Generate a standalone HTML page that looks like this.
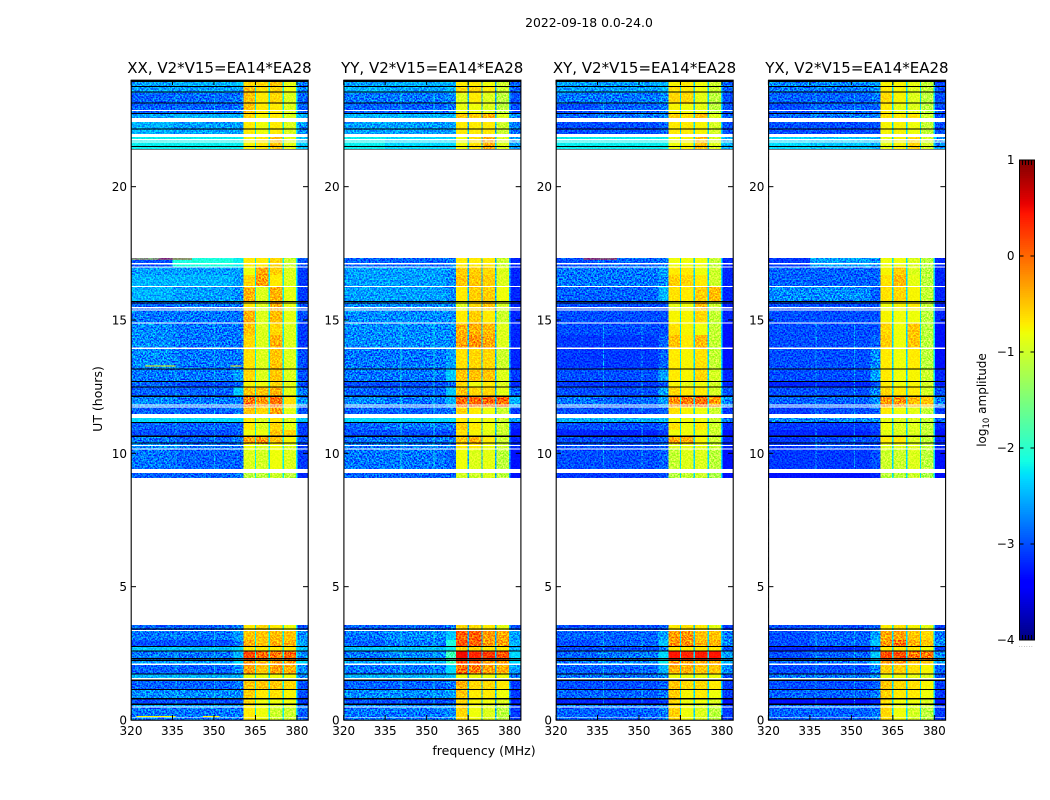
<!DOCTYPE html>
<html lang="en">
<head>
<meta charset="utf-8">
<title>2022-09-18 amplitude spectrogram</title>
<style>
html,body{margin:0;padding:0;background:#fff;width:1050px;height:800px;overflow:hidden}
svg{display:block}
text{font-family:"DejaVu Sans","Liberation Sans",sans-serif;fill:#000}
.tick{font-size:12px}
.ttl{font-size:15px}
.lab{font-size:12px}
</style>
</head>
<body>
<svg id="figure" width="1050" height="800" viewBox="0 0 1050 800" xmlns="http://www.w3.org/2000/svg">
<defs>
<filter id="speckle" x="0" y="0" width="100%" height="100%" color-interpolation-filters="sRGB">
<feTurbulence type="fractalNoise" baseFrequency="0.62" numOctaves="2" seed="7"/>
<feColorMatrix type="matrix" values="2.8 0 0 0 -0.9  2.8 0 0 0 -0.9  2.8 0 0 0 -0.9  0 0 0 0 1"/>
</filter>
</defs>
<text x="589" y="27" text-anchor="middle" style="font-size:12.4px">2022-09-18 0.0-24.0</text>
<text x="484" y="755" text-anchor="middle" style="font-size:12.5px">frequency (MHz)</text>
<text transform="translate(102,399) rotate(-90)" text-anchor="middle" style="font-size:12.5px">UT (hours)</text>
<text transform="translate(986,400) rotate(-90)" text-anchor="middle" style="font-size:12px">log<tspan dy="3" style="font-size:8.5px">10</tspan><tspan dy="-3"> amplitude</tspan></text>
</svg>
<script>
const panelNames = ['XX', 'YY', 'XY', 'YX'];
const baselineLabel = 'V2*V15=EA14*EA28';
const freqTicks = [320, 335, 350, 365, 380];
const utTicks = [0, 5, 10, 15, 20];
const colorbarTicks = [-4, -3, -2, -1, 0, 1];
const freqColumns = [[320,335],[335,357],[357,360.6],[360.6,364.75],[365.25,369.75],[370.25,374.75],[375.25,379.75],[380.25,384]];
const channelGaps = [[364.75,365.25],[369.75,370.25],[374.75,375.25],[379.75,380.25]];
const gapLevels = [-2.2, -2.5, -2.3, -2.3];
const scanRows = [[0,.48],[.48,.6],[.6,.79],[.79,1.16],[1.16,1.5],[1.5,1.73],[1.73,2.1],[2.1,2.25],[2.25,2.59],[2.59,2.76],[2.76,3],[3,3.34],[3.34,3.56],
[9.08,9.26],[9.41,10.16],[10.16,10.35],[10.35,10.63],[10.63,10.88],[10.88,11.16],[11.16,11.33],[11.48,11.74],[11.74,12.13],[12.13,12.47],[12.47,12.71],[12.71,13.16],[13.16,13.93],[13.93,14.44],[14.44,14.89],[14.89,15.38],[15.38,15.68],[15.68,16.28],[16.28,16.69],[16.69,16.99],[16.99,17.33],
[21.41,21.98],[21.98,22.43],[22.58,22.73],[22.73,23.1],[23.1,23.51],[23.51,23.74],[23.74,24]];
const xxLevels = [
[-2.8,-2.8,-2.8,-.7,-.8,-1,-1,-2.9],[-2.6,-2.6,-2.6,-.7,-.8,-.9,-.85,-2.9],[-3,-3,-3,-.6,-.8,-.8,-.8,-3.1],[-2.7,-2.7,-2.7,-.55,-.7,-.65,-.75,-3],[-2.9,-2.9,-2.8,-.5,-.5,-.5,-.6,-3],[-2.5,-2.5,-2.5,-.8,-.8,-.8,-.8,-2.7],[-2.9,-2.9,-2.7,-.3,-.5,-.3,-.4,-2.7],[-2.6,-2.6,-2.3,-.25,-.4,-.25,-.3,-2.3],[-2.8,-2.8,-2.5,.15,0,-.1,0,-2.7],[-2.4,-2.4,-2.3,-.7,-.7,-.7,-.7,-2.4],[-3,-3,-2.8,-.4,-.5,-.4,-.4,-2.6],[-2.8,-2.8,-2.6,-.5,-.5,-.45,-.5,-2.7],[-2.9,-2.9,-2.8,-.7,-.6,-.7,-.8,-3],
[-2.9,-2.9,-2.8,-1.1,-1.1,-1,-1.1,-3.2],[-2.8,-2.9,-2.9,-.9,-.95,-.8,-.9,-3.1],[-2.7,-2.8,-2.8,-.8,-.9,-.8,-.9,-3.1],[-2.8,-2.9,-2.8,-.35,-.25,-.5,-.75,-3],[-3,-3,-2.9,-.8,-.8,-.5,-.6,-3.1],[-2.9,-2.9,-2.9,-.7,-.9,-.6,-.85,-3.1],[-2.3,-2.3,-2.3,-.7,-.9,-.7,-.9,-2.4],[-2.9,-2.9,-2.8,-.5,-.6,-.3,-.85,-3],[-2.7,-2.8,-2.8,-.1,-.25,-.05,-.65,-2.7],[-2.9,-2.9,-2.4,-.5,-.5,-.4,-.85,-2.8],[-2.9,-3,-2.9,-.75,-.8,-.6,-.85,-3],[-2.8,-2.8,-2.6,-.6,-.9,-.5,-.9,-3],[-2.7,-2.8,-2.8,-.65,-.9,-.5,-.9,-3],[-2.7,-2.8,-2.8,-.6,-.9,-.4,-.9,-3.1],[-2.7,-2.8,-2.8,-.5,-.9,-.6,-.9,-3.1],[-2.8,-2.8,-2.8,-.4,-.9,-.45,-.85,-3],[-2.9,-2.8,-2.8,-.7,-.9,-.35,-.85,-3],[-2.5,-2.6,-2.7,-.4,-.9,-.4,-.85,-3.1],[-2.5,-2.5,-2.6,-.6,-.3,-.7,-.9,-3.1],[-2.6,-2.6,-2.6,-.8,-.35,-.55,-.9,-3.1],[-3,-2.1,-2.2,-.7,-.7,-.6,-1,-3],
[-2.2,-2.2,-2.2,-.75,-.7,-.5,-.85,-2.4],[-2.5,-2.6,-2.6,-.7,-.8,-.7,-.9,-2.7],[-2.6,-2.5,-2.5,-.6,-.75,-.7,-.9,-2.5],[-2.9,-2.9,-2.8,-.5,-.7,-.7,-.9,-2.9],[-2.9,-2.85,-2.8,-.5,-.7,-.6,-.9,-2.9],[-2.6,-2.6,-2.6,-.45,-.65,-.6,-.8,-2.7],[-2.6,-2.5,-2.4,-.6,-.6,-.5,-.85,-2.8]];
const yyLevels = [
[-2.8,-2.8,-2.7,-.6,-.8,-.9,-1.1,-3.1],[-2.7,-2.7,-2.6,-.6,-.8,-.9,-1,-3.1],[-3,-3,-2.9,-.6,-.75,-.8,-.9,-3.2],[-2.7,-2.7,-2.6,-.5,-.7,-.7,-.8,-3.1],[-2.9,-2.9,-2.8,-.4,-.6,-.6,-.7,-3.1],[-2.5,-2.5,-2.4,-.8,-.8,-.8,-.8,-2.8],[-2.8,-2.8,-2.3,-.05,-.1,-.3,-.4,-2.6],[-2.6,-2.5,-1.9,.15,.05,-.3,-.3,-2.3],[-2.8,-2.7,-1.9,.5,.35,.25,.1,-2.3],[-2.4,-2.4,-2.2,-.6,-.6,-.7,-.7,-2.5],[-2.9,-2.8,-2.1,.1,.05,-.3,-.3,-2.5],[-2.8,-2.7,-2.4,.05,.05,-.25,-.35,-2.6],[-2.9,-2.9,-2.8,-.6,-.6,-.7,-.85,-3],
[-2.9,-2.9,-2.9,-.95,-1,-.9,-1.1,-3.3],[-2.8,-2.8,-2.9,-.8,-.9,-.85,-1.1,-3.3],[-2.8,-2.8,-2.8,-.7,-.7,-.8,-1,-3.2],[-2.8,-2.8,-2.8,-.5,-.4,-.7,-1,-3.2],[-3,-3,-3,-.65,-.75,-.85,-1,-3.3],[-2.9,-2.8,-2.8,-.55,-.7,-.8,-1,-3.2],[-2.3,-2.3,-2.3,-.7,-.8,-.8,-1,-2.6],[-2.9,-2.9,-2.8,-.6,-.7,-.8,-1,-3.1],[-2.7,-2.8,-2.5,0,0,0,0,-2.5],[-2.9,-2.9,-2.4,-.5,-.6,-.6,-.85,-2.9],[-3,-3,-2.9,-.6,-.8,-.7,-.9,-3.2],[-2.8,-2.8,-2.4,-.5,-.5,-.5,-.9,-3.1],[-2.8,-2.8,-2.6,-.65,-.6,-.6,-1,-3.2],[-2.7,-2.7,-2.7,-.35,-.25,-.35,-.9,-3.2],[-2.7,-2.7,-2.7,-.4,-.4,-.45,-.9,-3.2],[-2.7,-2.7,-2.7,-.7,-.55,-.7,-1,-3.2],[-2.7,-2.7,-2.7,-.9,-.6,-.5,-.95,-3.2],[-2.6,-2.6,-2.7,-.7,-.55,-.55,-.8,-3.2],[-2.6,-2.6,-2.7,-.5,-.5,-.55,-.9,-3.2],[-2.6,-2.6,-2.7,-.55,-.55,-.6,-.9,-3.2],[-2.9,-2.9,-2.8,-.7,-.7,-.7,-1,-3.2],
[-2.2,-2.3,-2.3,-.8,-.65,-.4,-.9,-2.6],[-2.6,-2.6,-2.6,-.7,-.7,-.7,-1,-2.8],[-2.5,-2.5,-2.5,-.5,-.55,-.4,-.9,-2.7],[-2.9,-2.9,-2.8,-.85,-.8,-.9,-1.1,-3],[-2.8,-2.8,-2.7,-.9,-.7,-.9,-1.1,-3],[-2.5,-2.6,-2.5,-.6,-.6,-.7,-1,-2.9],[-2.6,-2.5,-2.5,-.7,-.7,-.8,-1,-2.9]];
const xyLevels = [
[-2.9,-2.9,-2.8,-.55,-.8,-.9,-1.1,-3.1],[-2.8,-2.8,-2.7,-.65,-.8,-.9,-1,-3.1],[-3.2,-3.2,-3.1,-.6,-.8,-.8,-.9,-3.3],[-2.9,-2.9,-2.8,-.55,-.75,-.7,-.8,-3.1],[-3,-3,-2.9,-.5,-.6,-.6,-.7,-3.1],[-2.8,-2.8,-2.7,-.8,-.8,-.8,-.8,-3],[-2.9,-2.9,-2.5,-.4,-.4,-.5,-.5,-2.7],[-2.8,-2.7,-2.2,-.2,-.25,-.4,-.4,-2.5],[-2.9,-2.8,-2.3,.45,.35,.4,.45,-2.6],[-3,-3,-2.8,-.7,-.7,-.7,-.7,-3],[-3,-2.9,-2.4,-.25,-.25,-.4,-.4,-2.7],[-2.9,-2.9,-2.6,-.3,-.25,-.5,-.5,-2.8],[-3,-3,-2.9,-.7,-.65,-.7,-.85,-3.1],
[-3.1,-3.1,-3,-1.15,-1.05,-1,-1.2,-3.3],[-3,-3,-2.9,-1.05,-.9,-.9,-1.1,-3.3],[-3,-3,-2.9,-.9,-.85,-.85,-1,-3.2],[-3,-3,-2.9,-.35,-.4,-.75,-1,-3.2],[-3.2,-3.2,-3.1,-.8,-.8,-.8,-1,-3.3],[-3,-3,-2.9,-.65,-.8,-.7,-1,-3.2],[-2.5,-2.5,-2.5,-.8,-.8,-.8,-1,-2.8],[-3,-3,-2.9,-.65,-.75,-.8,-1,-3.1],[-2.8,-2.9,-2.6,-.2,-.1,-.05,-.25,-2.7],[-3,-3,-2.6,-.6,-.7,-.7,-.95,-3],[-3.1,-3.1,-3,-.75,-.85,-.8,-.95,-3.2],[-3,-3,-2.6,-.7,-.75,-.6,-.95,-3.2],[-3.1,-3.1,-2.9,-.7,-.75,-.65,-1.05,-3.3],[-3.1,-3.1,-2.9,-.5,-.7,-.45,-1.05,-3.3],[-3,-3,-3,-.65,-.75,-.8,-1.05,-3.3],[-3,-3,-3,-.75,-.75,-.6,-1.05,-3.2],[-3,-3,-3,-.85,-.8,-.45,-1,-3.2],[-2.9,-2.9,-2.5,-.65,-.7,-.55,-.45,-3.2],[-2.8,-2.8,-2.7,-.55,-.6,-.7,-1,-3.2],[-2.8,-2.8,-2.6,-.7,-.7,-.8,-1,-3.2],[-3,-2.9,-2.8,-.8,-.8,-.8,-1.05,-3.2],
[-2.2,-2.2,-2.2,-.8,-.75,-.5,-.9,-2.5],[-3,-3,-2.9,-.7,-.7,-.75,-.95,-3],[-2.9,-2.8,-2.7,-.55,-.65,-.5,-.9,-2.9],[-3,-2.9,-2.8,-.75,-.8,-.85,-1.1,-3],[-2.8,-2.8,-2.7,-.6,-.6,-.85,-1.1,-3],[-2.6,-2.6,-2.5,-.65,-.7,-.8,-1,-2.9],[-2.6,-2.6,-2.5,-.75,-.7,-.8,-1,-2.9]];
const yxLevels = [
[-2.9,-2.9,-2.8,-.6,-.8,-.95,-1.1,-3.1],[-2.8,-2.8,-2.7,-.65,-.85,-.95,-1,-3.1],[-3.3,-3.3,-3.2,-.65,-.8,-.8,-.9,-3.3],[-2.9,-2.9,-2.8,-.55,-.7,-.7,-.8,-3.1],[-3,-3,-2.9,-.5,-.6,-.65,-.75,-3.1],[-2.8,-2.8,-2.7,-.8,-.8,-.85,-.9,-3],[-3,-3,-2.7,-.55,-.55,-.65,-.75,-2.9],[-2.9,-2.8,-2.4,-.25,-.25,-.5,-.5,-2.6],[-3,-2.9,-2.4,.15,.15,-.1,-.1,-2.7],[-3.2,-3.2,-2.9,-.7,-.7,-.7,-.8,-3.1],[-3,-2.9,-2.4,-.25,-.1,-.4,-.5,-2.7],[-3,-2.9,-2.6,-.35,-.3,-.5,-.6,-2.8],[-3,-3,-2.9,-.7,-.65,-.75,-.85,-3.1],
[-3.3,-3.3,-3.2,-1.1,-1.1,-1,-1.2,-3.3],[-3.1,-3.1,-3,-1,-1,-.9,-1.1,-3.3],[-3.1,-3,-3,-.9,-.9,-.9,-1.05,-3.2],[-3.1,-3,-3,-.7,-.7,-.9,-1.05,-3.2],[-3.2,-3.2,-3.1,-.85,-.9,-.9,-1.05,-3.3],[-3.1,-3.1,-3,-.8,-.9,-.9,-1.05,-3.2],[-2.7,-2.7,-2.7,-.85,-.9,-.9,-1.05,-2.9],[-3.1,-3,-2.9,-.7,-.8,-.85,-1.05,-3.1],[-2.9,-2.9,-2.7,-.25,-.25,-.45,-.5,-2.8],[-3,-3,-2.7,-.6,-.7,-.7,-.95,-3],[-3.2,-3.2,-3,-.7,-.8,-.75,-.95,-3.2],[-3,-3,-2.6,-.7,-.8,-.75,-1,-3.2],[-3,-3,-2.7,-.7,-.8,-.7,-1.1,-3.3],[-3,-3,-2.9,-.55,-.8,-.5,-1.1,-3.3],[-3,-3,-3,-.6,-.8,-.5,-1.1,-3.3],[-3,-3,-3,-.75,-.8,-.8,-1.1,-3.2],[-3,-3,-3,-.8,-.75,-.7,-1.05,-3.2],[-2.7,-2.7,-2.9,-.65,-.6,-.75,-1.05,-3.2],[-2.9,-2.9,-2.9,-.65,-.45,-.85,-1.1,-3.2],[-2.9,-2.9,-2.9,-.75,-.55,-.9,-1.1,-3.2],[-3.1,-2.6,-2.7,-.8,-.8,-.9,-1.1,-3.2],
[-2.3,-2.4,-2.5,-.85,-.75,-.6,-.95,-2.7],[-3,-3,-3,-.75,-.75,-.8,-1.05,-3],[-2.9,-2.8,-2.8,-.65,-.7,-.65,-1,-3],[-3,-2.9,-2.9,-.7,-.85,-.9,-1.1,-3],[-2.9,-2.9,-2.8,-.6,-.75,-.9,-1.1,-3],[-2.8,-2.8,-2.7,-.7,-.75,-.9,-1.05,-3],[-2.7,-2.7,-2.6,-.75,-.75,-.85,-1.05,-3]];
const panelLevels = [xxLevels, yyLevels, xyLevels, yxLevels];
const blankScans = [[.09,.12],[.46,.5],[1.5,1.58],[2.07,2.11],[3.34,3.38],[9.26,9.41],[10.14,10.18],[10.27,10.31],[11.33,11.48],[11.71,11.75],[11.79,11.83],[13.92,13.96],[14.86,14.9],[15.36,15.4],[15.44,15.48],[16.24,16.28],[16.96,17],[17.09,17.13],[21.65,21.69],[21.74,21.78],[21.86,21.98],[22.43,22.58],[22.84,22.88]];
const zeroScans = [[.57,.61],[.76,.83],[1.13,1.17],[1.47,1.51],[1.71,1.75],[2.22,2.26],[2.28,2.32],[2.56,2.6],[2.73,2.77],[3.39,3.43],[10.36,10.4],[10.62,10.66],[11.14,11.18],[12.12,12.16],[12.46,12.5],[12.68,12.72],[13.15,13.19],[15.61,15.65],[15.67,15.71],[21.39,21.42],[21.49,21.53],[22.15,22.19],[22.72,22.76],[23.11,23.15],[23.53,23.57],[23.73,23.77],[23.93,24]];
const rfiFreqs = [[336,350],[340.6,352.5],[337,351],[337,351]];
const rfiSpans = [[.48,3.34],[9.41,11.33],[11.48,14.86],[22.58,23.5]];
const rfiLevel = -2.2;
const burstUt = [17.3, 17.3, 13.3, 13.3, .15, .15];
const burstStart = [330, 320, 325, 356, 322, 346];
const burstEnd = [342, 330, 336, 360, 336, 352];
const burstLevel = [.3, -.6, -.75, -.75, -.75, -.75];

const svgNS = 'http://www.w3.org/2000/svg';
const fig = document.getElementById('figure');
const plotWidth = 177, plotTop = 80, plotBottom = 720;
const plotLeft = [131, 343.7, 556, 768.4];
const x = (p, f) => plotLeft[p] + (f - 320) * plotWidth / 64;
const y = ut => plotBottom - ut * (plotBottom - plotTop) / 24;
const barLeft = 1019.5, barRight = 1034.5, barTop = 160, barBottom = 640;
const barY = v => barBottom - (v + 4) * (barBottom - barTop) / 5;

function knot(t, pts) {
  for (let i = 1; i < pts.length; i++) {
    if (t <= pts[i][0]) {
      const a = pts[i - 1], b = pts[i];
      return a[1] + (b[1] - a[1]) * (t - a[0]) / (b[0] - a[0]);
    }
  }
  return pts[pts.length - 1][1];
}
function jet(v) {
  const t = Math.max(0, Math.min(1, (v + 4) / 5));
  const r = knot(t, [[0,0],[.35,0],[.66,1],[.89,1],[1,.5]]);
  const g = knot(t, [[0,0],[.125,0],[.375,1],[.64,1],[.91,0],[1,0]]);
  const b = knot(t, [[0,.5],[.11,1],[.34,1],[.65,0],[1,0]]);
  return 'rgb(' + Math.round(r * 255) + ',' + Math.round(g * 255) + ',' + Math.round(b * 255) + ')';
}
function rect(parent, x0, y0, w, h, fill) {
  const el = document.createElementNS(svgNS, 'rect');
  el.setAttribute('x', x0);
  el.setAttribute('y', y0);
  el.setAttribute('width', w);
  el.setAttribute('height', h);
  el.setAttribute('fill', fill);
  el.setAttribute('shape-rendering', 'crispEdges');
  parent.appendChild(el);
  return el;
}
function line(parent, x1, y1, x2, y2) {
  const el = document.createElementNS(svgNS, 'line');
  el.setAttribute('x1', x1);
  el.setAttribute('y1', y1);
  el.setAttribute('x2', x2);
  el.setAttribute('y2', y2);
  el.setAttribute('stroke', '#000');
  el.setAttribute('stroke-width', '1');
  parent.appendChild(el);
  return el;
}
function label(parent, x0, y0, str, anchor, cls) {
  const el = document.createElementNS(svgNS, 'text');
  el.setAttribute('x', x0);
  el.setAttribute('y', y0);
  el.setAttribute('text-anchor', anchor);
  el.setAttribute('class', cls);
  el.textContent = str;
  parent.appendChild(el);
  return el;
}
const fmtTick = v => String(v).replace('-', '\u2212');

panelNames.forEach((name, p) => {
  const g = document.createElementNS(svgNS, 'g');
  
  
  fig.appendChild(g);

  const heat = document.createElementNS(svgNS, 'g');
  
  
  heat.setAttribute('style', 'isolation:isolate');
  g.appendChild(heat);

  scanRows.forEach((row, r) => {
    const y0 = y(row[1]), y1 = y(row[0]);
    freqColumns.forEach((col, c) => {
      const cell = rect(heat, x(p, col[0]), y0, x(p, col[1]) - x(p, col[0]), y1 - y0, jet(panelLevels[p][r][c]));
      
      
    });
    channelGaps.forEach(gap => {
      const gapCell = rect(heat, x(p, gap[0]), y0, x(p, gap[1]) - x(p, gap[0]), y1 - y0, jet(gapLevels[p]));
      
      
    });
  });

  rfiSpans.forEach(span => {
    rfiFreqs[p].forEach(f => {
      const rfi = rect(heat, x(p, f), y(span[1]), 1, y(span[0]) - y(span[1]), jet(rfiLevel));
      
      
      rfi.setAttribute('opacity', p === 1 ? '.8' : '.45');
    });
  });

  if (p === 0 || p === 2) {
    burstUt.forEach((ut, i) => {
      if (p === 2 && i !== 0) return;
      const burst = rect(heat, x(p, burstStart[i]), y(ut), x(p, burstEnd[i]) - x(p, burstStart[i]), 1, jet(burstLevel[i]));
      
      
    });
  }

  const noise = rect(heat, plotLeft[p], plotTop, plotWidth, plotBottom - plotTop, '#808080');
  
  
  noise.setAttribute('filter', 'url(#speckle)');
  noise.setAttribute('style', 'mix-blend-mode:overlay');
  noise.setAttribute('opacity', '.9');

  blankScans.forEach(s => {
    const blank = rect(g, plotLeft[p], y(s[1]), plotWidth, y(s[0]) - y(s[1]), '#fff');
    
    
  });
  [[3.56, 9.08], [17.33, 21.41]].forEach(s => {
    const hole = rect(g, plotLeft[p], y(s[1]), plotWidth, y(s[0]) - y(s[1]), '#fff');
    
    
  });
  zeroScans.forEach(s => {
    const zero = rect(g, plotLeft[p], y(s[1]), plotWidth, y(s[0]) - y(s[1]), '#000');
    
    
  });

  const frame = document.createElementNS(svgNS, 'rect');
  frame.setAttribute('x', plotLeft[p] + .2);
  frame.setAttribute('y', plotTop + .2);
  frame.setAttribute('width', plotWidth);
  frame.setAttribute('height', plotBottom - plotTop);
  frame.setAttribute('fill', 'none');
  frame.setAttribute('stroke', '#000');
  frame.setAttribute('stroke-width', '1.1');
  
  
  g.appendChild(frame);

  freqTicks.forEach(f => {
    const bottomTick = line(g, x(p, f), plotBottom, x(p, f), plotBottom - 5);
    
    
    const topTick = line(g, x(p, f), plotTop, x(p, f), plotTop + 5);
    
    
    const xLabel = label(g, x(p, f), 735, String(f), 'middle', 'tick');
    
    
  });
  utTicks.forEach(ut => {
    const leftTick = line(g, plotLeft[p], y(ut), plotLeft[p] + 5, y(ut));
    
    
    const rightTick = line(g, plotLeft[p] + plotWidth, y(ut), plotLeft[p] + plotWidth - 5, y(ut));
    
    
    const yLabel = label(g, plotLeft[p] - 4, y(ut) + 4.5, String(ut), 'end', 'tick');
    
    
  });
  const title = label(g, plotLeft[p] + plotWidth / 2, 73, name + ', ' + baselineLabel, 'middle', 'ttl');
  
  
});

const bar = document.createElementNS(svgNS, 'g');


fig.appendChild(bar);
for (let v = -4; v < 1; v += 0.02) {
  const swatch = rect(bar, barLeft, barY(v + 0.02), barRight - barLeft, barY(v) - barY(v + 0.02) + .5, jet(v + 0.01));
  
  
}
const barFrame = document.createElementNS(svgNS, 'rect');
barFrame.setAttribute('x', barLeft);
barFrame.setAttribute('y', barTop);
barFrame.setAttribute('width', barRight - barLeft);
barFrame.setAttribute('height', barBottom - barTop);
barFrame.setAttribute('fill', 'none');
barFrame.setAttribute('stroke', '#000');


bar.appendChild(barFrame);
colorbarTicks.forEach(v => {
  const leftMark = line(bar, barLeft, barY(v), barLeft + 4, barY(v));
  
  
  const rightMark = line(bar, barRight, barY(v), barRight - 4, barY(v));
  
  
  const barLabel = label(bar, barLeft - 5, barY(v) + 4, fmtTick(v), 'end', 'tick');
  
  
});
for (let i = 1; i < 5; i++) {
  const xm = barLeft + i * (barRight - barLeft) / 5;
  const topMark = line(bar, xm, barTop, xm, barTop + 5);
  
  
  const bottomMark = line(bar, xm, barBottom, xm, barBottom - 5);
  
  
}
const dots = label(bar, (barLeft + barRight) / 2 - 1, 647, '......', 'middle', 'tick');
dots.setAttribute('style', 'font-size:5.5px;fill:#666;letter-spacing:.75px');


</script>
</body>
</html>
